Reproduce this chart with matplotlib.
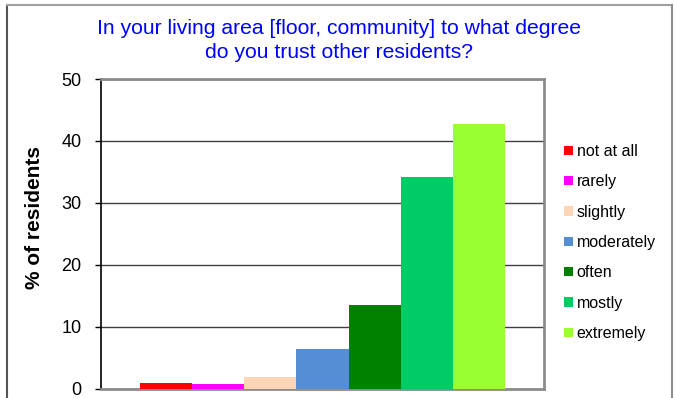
import matplotlib.pyplot as plt
from matplotlib.lines import Line2D

# answers and share of residents (%)
answers = ['not at all', 'rarely', 'slightly', 'moderately', 'often', 'mostly', 'extremely']
shares = [0.9, 0.75, 1.85, 6.4, 13.5, 34.1, 42.8]
colors = ['#FF0000', '#FF00FF', '#FBD5B5', '#558ED5', '#008000', '#00CC66', '#99FF33']
yticks = [0, 10, 20, 30, 40, 50]

plt.rcParams['font.family'] = ['Liberation Sans', 'DejaVu Sans']

W, H = 675, 398
fig = plt.figure(figsize=(W / 100, H / 100), dpi=100)
ax = fig.add_axes([101 / W, 1 - 388.5 / H, (544 - 101) / W, (388.5 - 79) / H])

# one category, seven series side by side (Excel style, gap width 150%)
bars = []
for i, (lab, val, col) in enumerate(zip(answers, shares, colors)):
    b = ax.bar(i, val, width=1.0, color=col, label=lab, zorder=3)
    bars.append(b)

ax.set_xlim(-1.25, len(answers) - 1 + 1.25)
ax.set_ylim(0, 50)
ax.set_yticks(yticks)
ax.set_xticks([])
ax.tick_params(axis='y', direction='out', length=4, width=1, color='black',
               labelsize=13, pad=10)
ax.yaxis.grid(True, color='#404040', linewidth=1.0, zorder=0)
ax.set_axisbelow(True)

ax.spines['left'].set_color('black')
ax.spines['left'].set_linewidth(1.2)
for s in ['top', 'right', 'bottom']:
    ax.spines[s].set_color('#8c8c8c')
    ax.spines[s].set_linewidth(2)

fig.text(35 / W, 1 - 217.5 / H, '% of residents', rotation=90, ha='center',
         va='center', fontsize=15, fontweight='bold')

fig.text(339 / W, 1 - 28.5 / H, 'In your living area [floor, community] to what degree',
         ha='center', va='center', fontsize=15.2, color='#0000FF')
fig.text(339 / W, 1 - 52.5 / H, 'do you trust other residents?',
         ha='center', va='center', fontsize=15.2, color='#0000FF')

fig.legend(handles=bars, labels=answers, loc='upper left',
           bbox_to_anchor=(564 / W, 1 - 144 / H), bbox_transform=fig.transFigure,
           frameon=False, fontsize=11.5, handlelength=0.55, handleheight=0.55,
           handletextpad=0.25, labelspacing=0.96, borderpad=0, borderaxespad=0)

# outer chart border
fig.add_artist(Line2D([7 / W, 7 / W], [0, 1 - 5 / H], color='#555555', linewidth=1.5,
                      transform=fig.transFigure))
fig.add_artist(Line2D([7 / W, 672 / W], [1 - 5 / H, 1 - 5 / H], color='#a0a0a0',
                      linewidth=1.5, transform=fig.transFigure))
fig.add_artist(Line2D([672 / W, 672 / W], [0, 1 - 5 / H], color='#909090', linewidth=1.5,
                      transform=fig.transFigure))

fig.savefig('out.png', dpi=100)
